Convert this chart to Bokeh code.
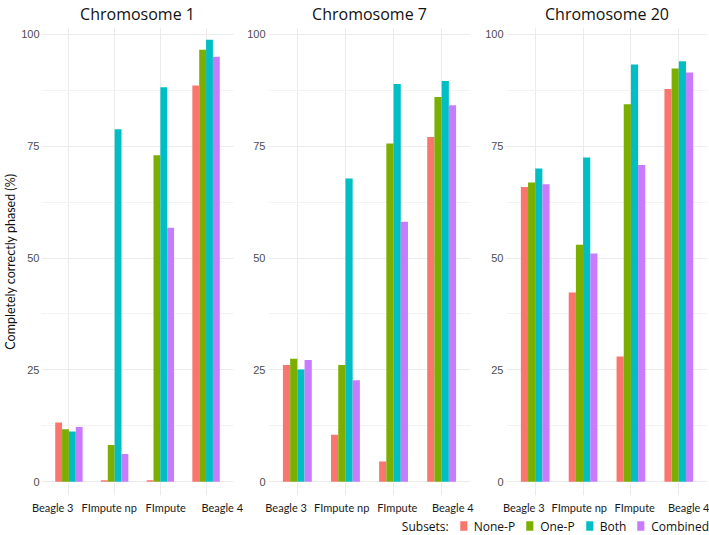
from bokeh.plotting import figure
from bokeh.layouts import row, column
from bokeh.models import (ColumnDataSource, FactorRange, Range1d, FixedTicker, Legend, LegendItem,
                          CategoricalAxis)
from bokeh.transform import dodge
from bokeh.embed import file_html
from bokeh.resources import INLINE

methods = ["Beagle 3", "FImpute np", "FImpute", "Beagle 4"]
subsets = ["None-P", "One-P", "Both", "Combined"]
colors = ["#F8766D", "#7CAE00", "#00BFC4", "#C77CFF"]
titles = ["Chromosome 1", "Chromosome 7", "Chromosome 20"]

# Chromosome 1
chr1_none_p = [13.2, 0.3, 0.3, 88.6]
chr1_one_p = [11.7, 8.2, 73.0, 96.6]
chr1_both = [11.2, 78.8, 88.2, 98.8]
chr1_combined = [12.2, 6.2, 56.8, 95.0]
# Chromosome 7
chr7_none_p = [26.1, 10.5, 4.5, 77.1]
chr7_one_p = [27.5, 26.1, 75.6, 86.0]
chr7_both = [25.1, 67.8, 88.9, 89.6]
chr7_combined = [27.2, 22.7, 58.1, 84.2]
# Chromosome 20
chr20_none_p = [65.9, 42.3, 28.0, 87.8]
chr20_one_p = [66.9, 53.0, 84.4, 92.4]
chr20_both = [70.0, 72.5, 93.3, 94.0]
chr20_combined = [66.5, 51.0, 70.8, 91.5]

y_ticks = [0, 25, 50, 75, 100]
y_minor = [12.5, 37.5, 62.5, 87.5]

panels = [
    (chr1_none_p, chr1_one_p, chr1_both, chr1_combined),
    (chr7_none_p, chr7_one_p, chr7_both, chr7_combined),
    (chr20_none_p, chr20_one_p, chr20_both, chr20_combined),
]
widths = [244, 238, 227]
left_borders = [30, 23, 22]
right_borders = [11, 12, 2]
# the category labels under each panel are spread a little wider than the bar groups
label_paddings = [-0.151, -0.091, -0.094]
keys = ["none_p", "one_p", "both", "combined"]
offsets = [-0.225, -0.075, 0.075, 0.225]

figs = []
for i, (vals, title) in enumerate(zip(panels, titles)):
    data = dict(method=methods)
    for k, v in zip(keys, vals):
        data[k] = v
    src = ColumnDataSource(data)
    p = figure(width=widths[i], height=516, x_range=FactorRange(*methods, range_padding=0.05),
               y_range=Range1d(-3.1, 101.56), toolbar_location=None, output_backend="svg",
               min_border_left=left_borders[i], min_border_right=right_borders[i],
               min_border_top=27, min_border_bottom=20, title=title)
    for k, off, c in zip(keys, offsets, colors):
        p.vbar(x=dodge("method", off, range=p.x_range), top=k, width=0.15, bottom=0,
               source=src, fill_color=c, line_color=None)
    p.title.align = "center"
    p.title.vertical_align = "top"
    p.title.text_font = "Open Sans"
    p.title.text_font_size = "16px"
    p.title.text_font_style = "normal"
    p.title.text_color = "#111111"
    p.title.standoff = 2
    p.outline_line_color = None
    p.yaxis.ticker = FixedTicker(ticks=y_ticks, minor_ticks=y_minor)
    p.yaxis.axis_line_color = None
    p.yaxis.major_tick_line_color = None
    p.yaxis.minor_tick_line_color = None
    p.yaxis.major_tick_out = 0
    p.yaxis.minor_tick_out = 0
    p.yaxis.major_label_text_font = "Liberation Sans"
    p.yaxis.major_label_text_font_size = "11px"
    p.yaxis.major_label_text_color = "#4D4D4D"
    p.yaxis.major_label_standoff = 3
    # default categorical axis hidden; labels drawn by an axis on a slightly wider-spread factor range
    p.below[0].visible = False
    p.extra_x_ranges = {"labels": FactorRange(*methods, range_padding=label_paddings[i])}
    lab_axis = CategoricalAxis(x_range_name="labels")
    lab_axis.axis_line_color = None
    lab_axis.major_tick_line_color = None
    lab_axis.minor_tick_line_color = None
    lab_axis.major_tick_out = 0
    lab_axis.major_label_text_font = "Lato"
    lab_axis.major_label_text_font_size = "11px"
    lab_axis.major_label_text_color = "#1A1A1A"
    lab_axis.major_label_standoff = 5
    p.add_layout(lab_axis, "below")
    p.xgrid.grid_line_color = "#EBEBEB"
    p.ygrid.grid_line_color = "#EBEBEB"
    p.ygrid.minor_grid_line_color = "#F3F3F3"
    if i == 0:
        p.yaxis.major_label_standoff = 2
        p.yaxis.axis_label = "Completely correctly phased (%)"
        p.yaxis.axis_label_text_font = "Lato"
        p.yaxis.axis_label_text_font_size = "12.5px"
        p.yaxis.axis_label_text_font_style = "normal"
        p.yaxis.axis_label_text_color = "#111111"
        p.yaxis.axis_label_standoff = 0
    figs.append(p)

lf = figure(width=709, height=19, x_range=Range1d(0, 1), y_range=Range1d(0, 1),
            toolbar_location=None, output_backend="svg", x_axis_type=None, y_axis_type=None,
            min_border=0)
lf.outline_line_color = None
# legend-only renderers: placed outside the visible range so only their legend swatches show
items = []
blank = lf.vbar(x=[5], top=[1], width=0.1, fill_alpha=0, line_alpha=0)
items.append(LegendItem(label="Subsets:", renderers=[blank]))
for s, c in zip(subsets, colors):
    r = lf.vbar(x=[5], top=[1], width=0.1, fill_color=c, line_color=None)
    items.append(LegendItem(label=s, renderers=[r]))
legend = Legend(items=items, orientation="horizontal", location="center_right",
                glyph_width=9, glyph_height=12, label_standoff=6, spacing=10,
                padding=2, margin=0, border_line_color=None, background_fill_alpha=0,
                label_text_font="Open Sans", label_text_font_size="12px", label_text_color="#111111")
lf.add_layout(legend)

layout = column(row(*figs), lf)
open("out.html", "w").write(file_html(layout, INLINE))
